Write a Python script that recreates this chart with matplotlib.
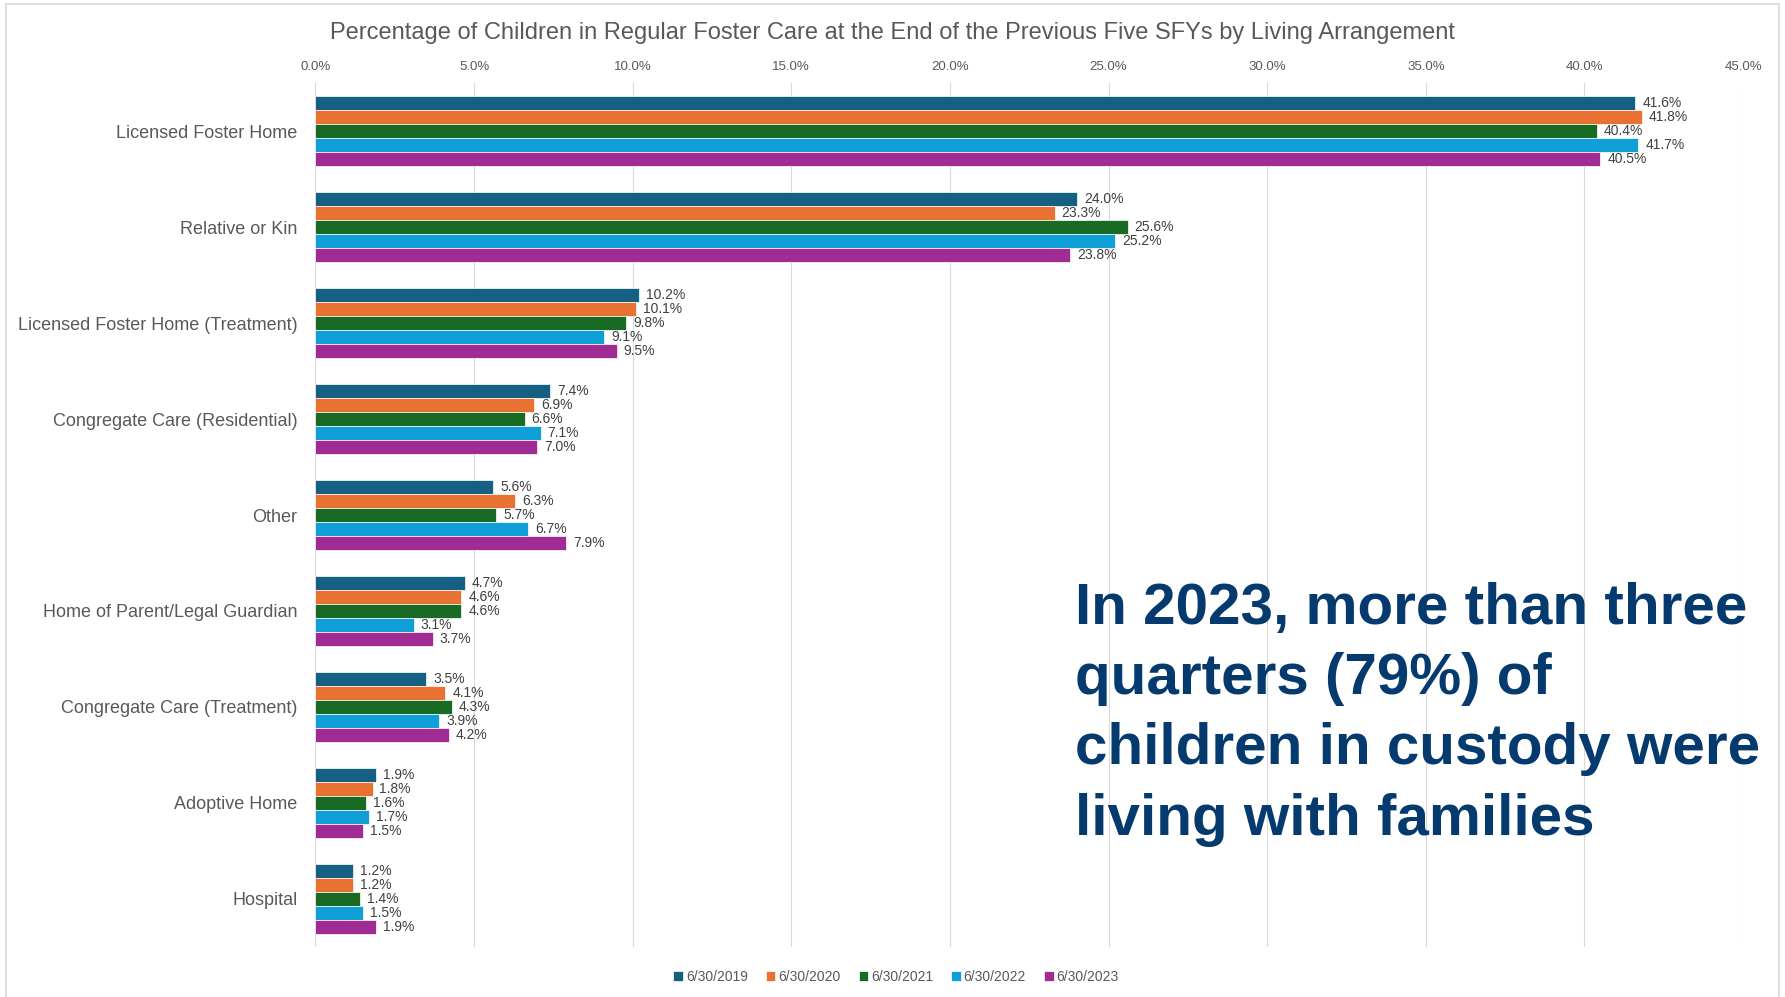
import numpy as np
import matplotlib.pyplot as plt
from matplotlib.patches import Rectangle

# Данные с картинки (проценты)
categories = [
    "Licensed Foster Home",
    "Relative or Kin",
    "Licensed Foster Home (Treatment)",
    "Congregate Care (Residential)",
    "Other",
    "Home of Parent/Legal Guardian",
    "Congregate Care (Treatment)",
    "Adoptive Home",
    "Hospital",
]
years = ["6/30/2019", "6/30/2020", "6/30/2021", "6/30/2022", "6/30/2023"]
sfy2019 = [41.6, 24.0, 10.2, 7.4, 5.6, 4.7, 3.5, 1.9, 1.2]
sfy2020 = [41.8, 23.3, 10.1, 6.9, 6.3, 4.6, 4.1, 1.8, 1.2]
sfy2021 = [40.4, 25.6, 9.8, 6.6, 5.7, 4.6, 4.3, 1.6, 1.4]
sfy2022 = [41.7, 25.2, 9.1, 7.1, 6.7, 3.1, 3.9, 1.7, 1.5]
sfy2023 = [40.5, 23.8, 9.5, 7.0, 7.9, 3.7, 4.2, 1.5, 1.9]
x_ticks = [0, 5, 10, 15, 20, 25, 30, 35, 40, 45]

title = ("Percentage of Children in Regular Foster Care at the End of the "
         "Previous Five SFYs by Living Arrangement")
note = "In 2023, more than three\nquarters (79%) of\nchildren in custody were\nliving with families"

series = [sfy2019, sfy2020, sfy2021, sfy2022, sfy2023]
colors = ["#156082", "#E97132", "#196B24", "#0F9ED5", "#A02B93"]
gray = "#595959"

plt.rcParams['font.family'] = ['Liberation Sans', 'DejaVu Sans']

fig = plt.figure(figsize=(17.85, 9.97), dpi=100)
ax = fig.add_axes([0.1767, 0.0502, 0.7998, 0.8665])

y = np.arange(len(categories))
h = 0.146
for j, (vals, col, lab) in enumerate(zip(series, colors, years)):
    pos = y + (j - 2) * h
    ax.barh(pos, vals, height=h, color=col, edgecolor="white",
            linewidth=0.5, label=lab, zorder=3)
    for p, v in zip(pos, vals):
        ax.annotate(f"{v:.1f}%", (v, p), xytext=(5, 0), textcoords="offset points",
                    va="center", ha="left", fontsize=10, color="#404040")

ax.set_xlim(0, 45)
ax.set_ylim(len(categories) - 0.5, -0.5)
ax.set_xticks(x_ticks)
ax.set_xticklabels([f"{t:.1f}%" for t in x_ticks])
ax.xaxis.tick_top()
ax.tick_params(axis="x", length=0, pad=7.5, labelsize=9.5, labelcolor=gray)
ax.set_yticks(y)
ax.set_yticklabels(categories)
ax.tick_params(axis="y", length=0, pad=13, labelsize=13, labelcolor=gray)
ax.grid(axis="x", color="#d9d9d9", linewidth=0.8, zorder=0)
for s in ax.spines.values():
    s.set_visible(False)

fig.text(0.5, 1 - 33 / 997, title, ha="center", va="center", fontsize=17, color=gray)

fig.text(1075 / 1785, 1 - 582 / 997, note, ha="left", va="top", fontsize=42,
         fontweight="bold", color="#053a6f", linespacing=1.385)

fig.legend(loc="center", bbox_to_anchor=(0.502, 1 - 977 / 997), ncol=5, frameon=False,
           fontsize=10, handlelength=0.7, handleheight=0.7, handletextpad=0.2,
           columnspacing=1.3, labelcolor=gray)

# рамка вокруг диаграммы
fig.add_artist(Rectangle((6 / 1785, -0.05), (1779 - 6) / 1785, 1.05 - 4 / 997,
                         transform=fig.transFigure, fill=False,
                         edgecolor="#d9d9d9", linewidth=1.2))

fig.savefig("out.png", dpi=100)
